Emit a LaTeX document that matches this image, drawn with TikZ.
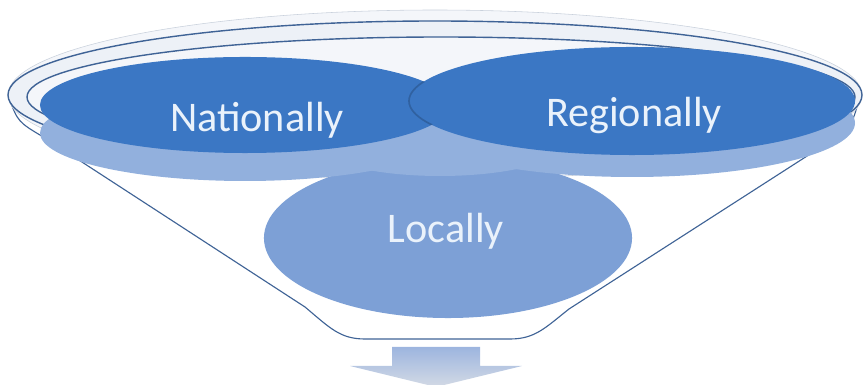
\documentclass[tikz,border=0pt]{standalone}
\usepackage{fontspec}
\setmainfont{Carlito}
\usetikzlibrary{shapes.geometric}
\definecolor{rimline}{HTML}{3F6396}
\definecolor{rimtop}{HTML}{F4F6FA}
\definecolor{rimedge}{HTML}{C9D1DC}
\definecolor{rimfill}{HTML}{EDF1F7}
\definecolor{discdark}{HTML}{3B77C4}
\definecolor{discside}{HTML}{92B0DD}
\definecolor{disclight}{HTML}{7DA0D6}
\definecolor{textwhite}{HTML}{EAF2FB}
\definecolor{arrowtop}{HTML}{9DB5DF}
\definecolor{arrowbot}{HTML}{D3DAE5}

\begin{document}
\begin{tikzpicture}[x=0.025cm,y=-0.025cm,
    disc/.style={ellipse,inner sep=0pt,fill=discdark},
    side/.style={fill=discside},
    label/.style={text=textwhite,font=\fontsize{30}{36}\selectfont,anchor=base}]
    \useasboundingbox (0,0) rectangle (864,385);

% 漏斗外形
    \coordinate (fl) at (9,98);
    \coordinate (fr) at (861,92);
    \fill[white] (fl) .. controls (18,122) .. (45,138) -- (305,307) .. controls (330,328) and (340,339) .. (365,339) -- (510,339) .. controls (535,339) and (545,328) .. (569,309) -- (832,140) .. controls (852,126) .. (fr) -- cycle;
    \draw[rimline,line width=0.8pt] (fl) .. controls (18,122) .. (45,138) -- (305,307) .. controls (330,328) and (340,339) .. (365,339) -- (510,339) .. controls (535,339) and (545,328) .. (569,309) -- (832,140) .. controls (852,126) .. (fr);

% 漏斗口
    \filldraw[fill=rimtop,draw=rimedge,line width=0.4pt] (435,95) ellipse [x radius=427, y radius=85];
    \filldraw[fill=rimfill,draw=rimline,line width=1pt] (435,95) ellipse [x radius=427, y radius=74];
    \filldraw[fill=rimtop,draw=rimline,line width=1pt] (441,97) ellipse [x radius=414, y radius=60];

% 三个圆盘
    \node[disc,fill=disclight,minimum width=9.2cm,minimum height=4cm] (loc) at (448,238) {};
    \fill[side] (245,133) ellipse [x radius=205, y radius=48];
    \fill[side] (632,123) ellipse [x radius=223, y radius=54];
    \fill[side] (440,140) ellipse [x radius=130, y radius=36];
    \node[disc,minimum width=10.25cm,minimum height=2.4cm] (nat) at (245,105) {};
    \node[disc,minimum width=11.15cm,minimum height=2.7cm] (reg) at (632,101) {};
    \begin{scope}
        \clip (nat.center) ellipse [x radius=205, y radius=48];
        \draw[discdark!60!black,opacity=0.45,line width=1.2pt] (reg.center) ellipse [x radius=223, y radius=54];
    \end{scope}

    \node[label] (natText) at (257,132) {Nationally};
    \node[label] (regText) at (634,127) {Regionally};
    \node[label] (locText) at (446,243) {Locally};

% 向下箭头
    \shade[top color=arrowtop,bottom color=arrowbot] (392,347) -- (480,347) -- (480,366) -- (522,366) -- (436,387) -- (350,366) -- (392,366) -- cycle;
\end{tikzpicture}
\end{document}
